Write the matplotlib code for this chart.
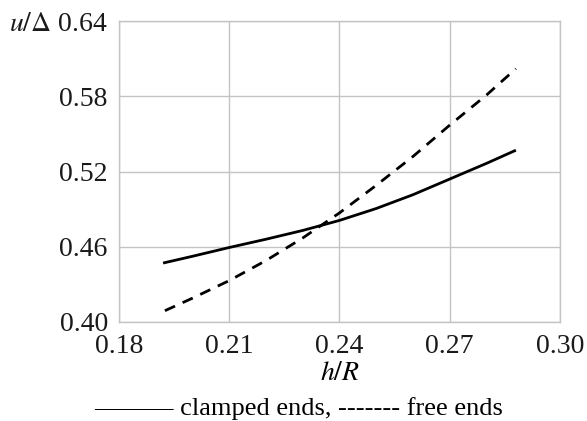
import matplotlib
matplotlib.use('Agg')
import matplotlib.pyplot as plt

plt.rcParams['font.family'] = ['Liberation Serif', 'DejaVu Serif']
plt.rcParams['mathtext.fontset'] = 'stix'

# data
h_clamped = [0.192, 0.20, 0.21, 0.22, 0.23, 0.24, 0.25, 0.26, 0.27, 0.28, 0.288]
u_clamped = [0.447, 0.4524, 0.4594, 0.466, 0.473, 0.481, 0.4905, 0.5015, 0.514, 0.5265, 0.537]

h_free = [0.1925, 0.20, 0.21, 0.22, 0.23, 0.24, 0.25, 0.26, 0.27, 0.28, 0.288]
u_free = [0.409, 0.419, 0.433, 0.449, 0.467, 0.487, 0.509, 0.532, 0.557, 0.581, 0.602]

xticks = [0.18, 0.21, 0.24, 0.27, 0.30]
xtick_labels = ['0.18', '0.21', '0.24', '0.27', '0.30']
yticks = [0.40, 0.46, 0.52, 0.58, 0.64]
ytick_labels = ['0.40', '0.46', '0.52', '0.58', r'$u/\Delta$ 0.64']

fig = plt.figure(figsize=(5.87, 4.21), dpi=100)
ax = fig.add_axes([0.2027, 0.2352, 0.7513, 0.7148])

ax.plot(h_clamped, u_clamped, color='black', lw=2.0, solid_capstyle='butt')
ax.plot(h_free, u_free, color='black', lw=2.0, dashes=(4, 3))

ax.set_xlim(0.18, 0.30)
ax.set_ylim(0.40, 0.64)
ax.set_xticks(xticks)
ax.set_xticklabels(xtick_labels)
ax.set_yticks(yticks)
ax.set_yticklabels(ytick_labels)
ax.tick_params(length=0, labelsize=20, colors='#1a1a1a')
ax.tick_params(axis='x', pad=9)
ax.tick_params(axis='y', pad=8)
ax.grid(True, color='#c4c4c4', lw=1.0)
for s in ax.spines.values():
    s.set_color('#c4c4c4')
    s.set_linewidth(1.0)

ax.set_xlabel(r'$h/R$', fontsize=20, labelpad=1)
fig.text(0.508, 0.03, '——— clamped ends, ------- free ends', fontsize=19,
         ha='center', va='center')

fig.savefig('out.png', dpi=100)
